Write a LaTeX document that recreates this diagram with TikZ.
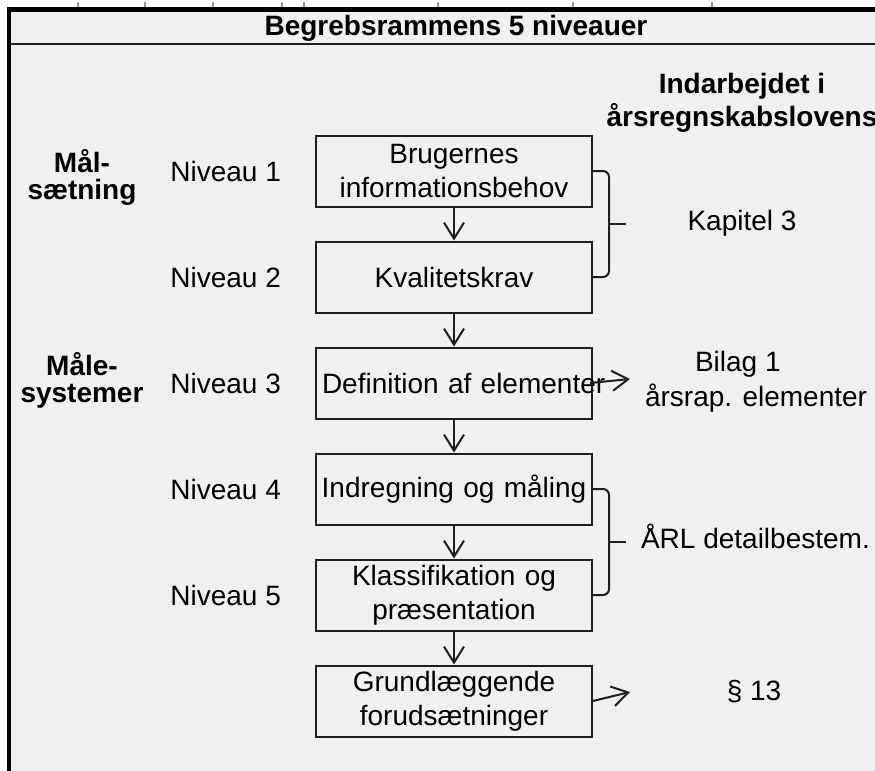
\documentclass[tikz,border=0pt]{standalone}
\usepackage{fontspec}
\setmainfont{Liberation Sans}
\usetikzlibrary{
  arrows.meta,
  calc,
  positioning
}
\definecolor{panelgray}{RGB}{240,240,240}
\definecolor{inkdark}{RGB}{30,30,30}
\definecolor{tickgray}{RGB}{150,150,150}
\tikzset{
  level/.style={draw=inkdark,line width=1pt,fill=panelgray,
    text width=136pt,align=center,minimum height=35.5pt,inner sep=1pt,
    font=\fontsize{14}{17}\selectfont},
  levlab/.style={font=\fontsize{14}{17}\selectfont},
  grouplab/.style={font=\fontsize{14}{13.5}\selectfont\bfseries,align=center},
  headlab/.style={font=\fontsize{14}{16.5}\selectfont\bfseries,align=center},
  lawlab/.style={font=\fontsize{14}{17.5}\selectfont,align=center},
  stepflow/.style={-{Straight Barb[length=8pt,width=10pt]},line width=1pt,draw=inkdark},
  bracket/.style={line width=1pt,draw=inkdark,rounded corners=3pt}
}

\begin{document}
\begin{tikzpicture}[x=0.5pt,y=-0.5pt,node distance=16.5pt and 13.5pt]
  \useasboundingbox (0,0) rectangle (875,771);
  % frame
  \fill[white] (0,0) rectangle (875,771);
  \fill[panelgray] (7,7) rectangle (875,771);
  \foreach \tx in {78,145,213,282,304,438,573,712}
    \draw[tickgray,line width=1pt] (\tx,2) -- (\tx,8);
  \fill[black] (7,7) rectangle (875,12);
  \fill[black] (7,7) rectangle (11,771);
  \draw[inkdark,line width=1pt] (11,44) -- (875,44);
  \node[headlab] (title) at (456,28) {Begrebsrammens 5 niveauer};

  % the five levels
  \node[level] (b1) at (454,171) {Brugernes\\informationsbehov};
  \node[level,below=of b1] (b2) {Kvalitetskrav};
  \node[level,below=of b2] (b3) {\makebox[136pt][l]{\hspace*{2pt}Definition af elementer}};
  \node[level,below=of b3] (b4) {Indregning og måling};
  \node[level,below=of b4] (b5) {Klassifikation og\\præsentation};
  \node[level,below=of b5] (b6) {Grundlæggende\\forudsætninger};
  \foreach \a/\b in {b1/b2,b2/b3,b3/b4,b4/b5,b5/b6}
    \draw[stepflow] (\a) -- (\b);

  \foreach \i in {1,...,5}
    \node[levlab,left=of b\i] (n\i) {Niveau \i};
  \node[grouplab] (maal) at (82,177) {Mål-\\sætning};
  \node[grouplab] (maale) at (82,380) {Måle-\\systemer};

  % right column
  \node[headlab] (law) at (742,103) {Indarbejdet i\\årsregnskabslovens};
  \coordinate (k1) at ($(b1.east)!0.5!(b2.east)+(16,0)$);
  \coordinate (k2) at ($(b4.east)!0.5!(b5.east)+(16,0)$);
  \draw[bracket] (b1.east) -| (k1) |- (b2.east);
  \draw[bracket] (b4.east) -| (k2) |- (b5.east);
  \draw[bracket] (k1) -- ++(17,0);
  \draw[bracket] (k2) -- ++(17,0);
  \node[lawlab] (kap) at (742,223) {Kapitel 3};
  \node[lawlab,anchor=west] (arl) at (634,536) {ÅRL detailbestem.};

  \coordinate (a3) at (630,379);
  \coordinate (a6) at (630,692);
  \draw[stepflow] ($(b3.east)+(-3,0)$) -- (a3);
  \draw[stepflow] (b6.east) -- (a6);
  \node[lawlab,align=left,anchor=west] (bil) at (638,382)
    {\hspace*{25pt}Bilag 1\\årsrap. elementer};
  \node[lawlab] (par) at (754,692) {§ 13};
\end{tikzpicture}
\end{document}
